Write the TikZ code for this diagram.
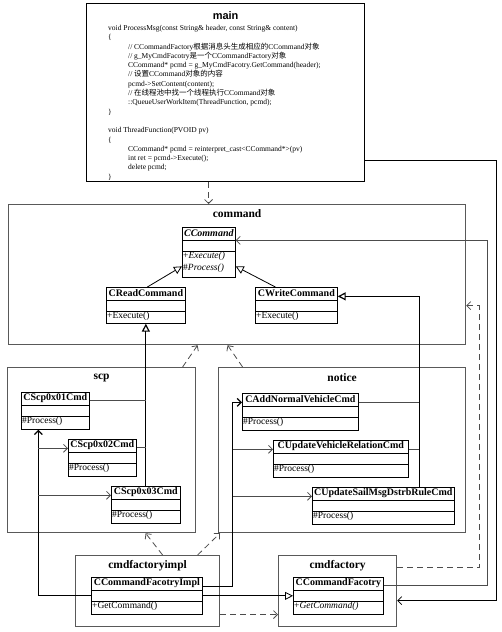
\documentclass[tikz,border=0pt]{standalone}
\usepackage{fontspec}
\setmainfont{Liberation Serif}
\newfontfamily\cjk{Noto Sans CJK SC}
\newfontfamily\titlesans{Liberation Sans}
\usetikzlibrary{arrows.meta}

\newcommand{\codeind}{\hspace*{20pt}}
% class box: name, x, y, width, height, class name, operations
\newcommand{\umlclass}[7]{%
  \node[classbox, minimum width=#4pt, minimum height=#5pt] (#1) at (#2,#3) {};
  \draw[line width=0.7pt] ([yshift=-13pt]#1.north west) -- ([yshift=-13pt]#1.north east);
  \draw[line width=0.7pt] ([yshift=-24pt]#1.north west) -- ([yshift=-24pt]#1.north east);
  \node[clsname] at ([yshift=-6.5pt]#1.north) {#6};
  \node[clsop] at ([yshift=-24pt]#1.north west) {#7};
}

\tikzset{
  pkg/.style={draw=black!65, line width=1.2pt, anchor=north west, inner sep=0pt},
  pkgtitle/.style={font=\fontsize{11.5}{12}\selectfont\bfseries, inner sep=0pt},
  classbox/.style={draw=black, line width=0.7pt, anchor=north west, inner sep=0pt, fill=white},
  clsname/.style={font=\fontsize{10}{11}\selectfont\bfseries, inner sep=0pt},
  clsop/.style={font=\fontsize{9.5}{12}\selectfont, inner sep=1pt, align=left, anchor=north west},
  dep/.style={black!70, line width=0.8pt, dash pattern=on 6pt off 4pt, -{Straight Barb[length=4pt,width=8pt]}},
  assoc/.style={black!70, line width=0.8pt, -{Straight Barb[length=4pt,width=8pt]}},
  gen/.style={black, line width=0.8pt, -{Triangle[open, length=8pt, width=8pt]}},
  trunk/.style={black, line width=1.2pt},
}

\begin{document}
\begin{tikzpicture}[x=1pt, y=-1pt]
  \useasboundingbox (0,0) rectangle (501,632);
  % packages
  \node[pkg, draw=black, minimum width=278pt, minimum height=178pt] (mainpkg) at (86,3) {};
  \node[pkg, minimum width=457pt, minimum height=140pt] (cmdpkg) at (8,204) {};
  \node[pkg, minimum width=188pt, minimum height=165pt] (scppkg) at (7,367) {};
  \node[pkg, minimum width=247pt, minimum height=165pt] (noticepkg) at (218,367) {};
  \node[pkg, minimum width=144pt, minimum height=71pt] (implpkg) at (75,555) {};
  \node[pkg, minimum width=118pt, minimum height=71pt] (factpkg) at (278,555) {};

  \node[font=\titlesans\bfseries\fontsize{11}{12}\selectfont, inner sep=0pt] (maintitle) at ([yshift=-13pt]mainpkg.north) {main};
  \node[pkgtitle] (cmdtitle) at ([yshift=-10pt]cmdpkg.north) {command};
  \node[pkgtitle] (scptitle) at ([yshift=-11pt]scppkg.north) {scp};
  \node[pkgtitle] (noticetitle) at ([yshift=-11pt]noticepkg.north) {notice};
  \node[pkgtitle] (impltitle) at ([yshift=-11pt]implpkg.north) {cmdfactoryimpl};
  \node[pkgtitle] (facttitle) at ([yshift=-11pt]factpkg.north) {cmdfactory};

  % main code
  \node[anchor=north west, inner sep=0pt, align=left, font=\fontsize{7.5}{9.3}\selectfont] (maincode)
    at ([xshift=22pt, yshift=-22pt]mainpkg.north west) {%
    void ProcessMsg(const String\& header, const String\& content)\\
    \{\\
    \codeind// CCommandFactory{\cjk 根据消息头生成相应的}CCommand{\cjk 对象}\\
    \codeind// g\_MyCmdFacotry{\cjk 是一个}CCommandFactory{\cjk 对象}\\
    \codeind CCommand* pcmd = g\_MyCmdFacotry.GetCommand(header);\\
    \codeind// {\cjk 设置}CCommand{\cjk 对象的内容}\\
    \codeind pcmd->SetContent(content);\\
    \codeind// {\cjk 在线程池中找一个线程执行}CCommand{\cjk 对象}\\
    \codeind::QueueUserWorkItem(ThreadFunction, pcmd);\\
    \}\\[9.3pt]
    void ThreadFunction(PVOID pv)\\
    \{\\
    \codeind CCommand* pcmd = reinterpret\_cast<CCommand*>(pv)\\
    \codeind int ret = pcmd->Execute();\\
    \codeind delete pcmd;\\
    \}};

  % classes
  \umlclass{ccmd}{182}{227}{53}{50}{\itshape CCommand}{+\textit{Execute()}\\\#\textit{Process()}}
  \umlclass{cread}{106}{287}{79}{36}{CReadCommand}{+Execute()}
  \umlclass{cwrite}{255}{287}{82}{36}{CWriteCommand}{+Execute()}
  \umlclass{cscp1}{21}{392}{68}{37}{CScp0x01Cmd}{\#Process()}
  \umlclass{cscp2}{68}{439}{68}{37}{CScp0x02Cmd}{\#Process()}
  \umlclass{cscp3}{111}{486}{69}{37}{CScp0x03Cmd}{\#Process()}
  \umlclass{cadd}{242}{393}{116}{37}{CAddNormalVehicleCmd}{\#Process()}
  \umlclass{cupdrel}{273}{440}{135}{37}{CUpdateVehicleRelationCmd}{\#Process()}
  \umlclass{cupdsail}{312}{487}{142}{37}{CUpdateSailMsgDstrbRuleCmd}{\#Process()}
  \umlclass{cimpl}{91}{577}{111}{37}{CCommandFacotryImpl}{+GetCommand()}
  \umlclass{cfact}{293}{577}{90}{37}{CCommandFacotry}{+\textit{GetCommand()}}

  % package dependencies
  \draw[dep] ([xshift=-17pt]mainpkg.south) -- ([xshift=-28.5pt]cmdpkg.north);
  \draw[dep] ([xshift=81pt]scppkg.north) -- ([xshift=-39.5pt]cmdpkg.south);
  \draw[dep] ([xshift=-99.5pt]noticepkg.north) -- ([xshift=-9.5pt]cmdpkg.south);
  \draw[dep] ([xshift=15pt]implpkg.north) -- ([xshift=44pt]scppkg.south);
  \draw[dep] ([xshift=50pt]implpkg.north) -- ([xshift=2pt]noticepkg.south west);
  \coordinate (fa) at ([yshift=-23.5pt]implpkg.east);
  \draw[dep] (fa) -- (fa -| factpkg.west);
  \draw[dep] ([yshift=23.5pt]factpkg.east) -- ++(82,0) |- ([yshift=-31pt]cmdpkg.east);
  \draw[assoc, black] ([yshift=-68pt]mainpkg.east) -- ++(131,0) |- ([yshift=-9.5pt]factpkg.east);
  \draw[assoc] ([yshift=10.5pt]cfact.east) -- ++(104,0) |- ([yshift=12pt]ccmd.east);

  % generalizations
  \draw[gen] ([xshift=1.5pt]cread.north) -- ([yshift=-14pt]ccmd.west);
  \draw[gen] ([xshift=-21pt]cwrite.north) -- ([yshift=-14pt]ccmd.east);
  \draw[gen, trunk] (cscp3.north) -- (cread.south);
  \coordinate (r1) at ([yshift=10pt]cscp1.east);
  \coordinate (r2) at ([yshift=10.5pt]cscp2.east);
  \draw[black!70, line width=0.8pt] (r1) -- (r1 -| cscp3.north);
  \draw[black!70, line width=0.8pt] (r2) -- (r2 -| cscp3.north);
  \coordinate (w0) at ([xshift=36pt]cupdsail.north);
  \draw[gen, trunk] (w0) |- ([yshift=9pt]cwrite.east);
  \coordinate (w1) at ([yshift=9.5pt]cadd.east);
  \coordinate (w2) at ([yshift=9.5pt]cupdrel.east);
  \draw[black!70, line width=0.8pt] (w1) -- (w1 -| w0);
  \draw[black!70, line width=0.8pt] (w2) -- (w2 -| w0);
  \draw[gen] (cimpl.east) -- (cfact.west);

  % factory impl associations
  \coordinate (s1) at ([xshift=-17pt]cscp1.south);
  \coordinate (s2) at ([yshift=9.5pt]cscp2.west);
  \coordinate (s3) at ([yshift=9.5pt]cscp3.west);
  \draw[assoc, trunk] (cimpl.west) -| (s1);
  \draw[assoc] (s2 -| s1) -- (s2);
  \draw[assoc] (s3 -| s1) -- (s3);
  \coordinate (ni) at ([yshift=9.5pt]cimpl.east);
  \coordinate (nt) at ([xshift=30pt]ni);
  \coordinate (n1) at ([yshift=9.5pt]cadd.west);
  \coordinate (n2) at ([yshift=9.5pt]cupdrel.west);
  \coordinate (n3) at ([yshift=9.5pt]cupdsail.west);
  \draw[assoc, trunk] (ni) -- (nt) |- (n1);
  \draw[assoc] (n2 -| nt) -- (n2);
  \draw[assoc] (n3 -| nt) -- (n3);
\end{tikzpicture}
\end{document}
